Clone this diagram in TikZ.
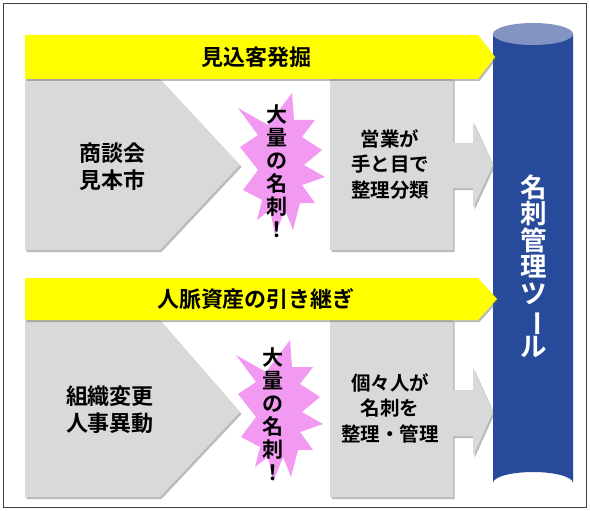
\documentclass[tikz,border=0pt]{standalone}
\usepackage{fontspec}
\setmainfont{Noto Sans CJK JP}[BoldFont={Noto Sans CJK JP Bold}]
\usetikzlibrary{shadows}
\definecolor{ylw}{HTML}{FFFF00}
\definecolor{gry}{HTML}{D9D9D9}
\definecolor{pnk}{HTML}{F29AF2}
\definecolor{cylbody}{HTML}{284A9A}
\definecolor{cyltop}{HTML}{8494C2}
\definecolor{frame}{HTML}{404040}
\newcommand\tightlines{\lineskiplimit=-100pt\relax}
\newcommand\vchoon{\rotatebox[origin=c]{-90}{ー}}
\tikzset{
  shd/.style={drop shadow={opacity=0.45,shadow xshift=1.5pt,shadow yshift=-2pt,fill=gray!80!black}},
  banner/.style={fill=ylw,draw=none,shd},
  grayshape/.style={fill=gry,draw=none,shd},
  burst/.style={fill=pnk,draw=none},
  bantext/.style={font=\bfseries\fontsize{22}{27}\selectfont,inner sep=0pt},
  lefttext/.style={font=\bfseries\fontsize{22}{27}\selectfont,align=center,inner sep=0pt},
  boxtext/.style={font=\bfseries\fontsize{19.5}{25.5}\selectfont,align=center,inner sep=0pt},
  verttext/.style={font=\bfseries\fontsize{21}{23}\selectfont\tightlines,align=center,inner sep=0pt},
  cyltext/.style={font=\bfseries\fontsize{26.5}{26.5}\selectfont\tightlines,align=center,inner sep=0pt,text=white}
}
\begin{document}
\begin{tikzpicture}[x=1pt,y=-1pt]
\useasboundingbox (0,0) rectangle (590,511);
\fill[white] (0,0) rectangle (590,511);
\draw[frame,line width=1pt] (3,4) rectangle (586,507);

% cylinder
\fill[cylbody] (493,34) -- (493,483) arc[x radius=40,y radius=11,start angle=180,end angle=360] -- (573,34) -- cycle;
\fill[cyltop] (533,34) ellipse[x radius=40,y radius=11];
\node[cyltext] (cyl) at (534,266) {名\\刺\\管\\理\\ツ\\{\vchoon}\\ル};

% row 1
\path[grayshape] (25,79) -- (160,79) -- (240,165) -- (160,250) -- (25,250) -- cycle;
\path[grayshape] (330,79) -- (453,79) -- (453,143) -- (473,143) -- (473,122) -- (493,165) -- (473,208) -- (473,188) -- (453,188) -- (453,250) -- (330,250) -- cycle;
\path[banner] (25,35) -- (478,35) -- (495,57) -- (478,79) -- (25,79) -- cycle;
\begin{scope}[shift={(280,165)}]
\path[burst] (12,-72) -- (14,-45) -- (35,-45) -- (22,-28) -- (42,-15) -- (24,0) -- (45,12) -- (22,20) -- (35,38) -- (20,38) -- (13,65) -- (5,45) -- (-5,70) -- (-10,45) -- (-23,55) -- (-18,35) -- (-37,25) -- (-22,5) -- (-40,-18) -- (-22,-30) -- (-42,-57) -- (-12,-40) -- cycle;
\end{scope}
\node[bantext] (b1) at (256,57) {見込客発掘};
\node[lefttext] (l1) at (112,167) {商談会\\見本市};
\node[verttext] (v1) at (277,171) {大\\量\\の\\名\\刺\\！};
\node[boxtext] (r1) at (390,164) {営業が\\手と目で\\整理分類};

% row 2
\path[grayshape] (25,320) -- (160,320) -- (240,412) -- (160,497) -- (25,497) -- cycle;
\path[grayshape] (330,320) -- (453,320) -- (453,390) -- (473,390) -- (473,368) -- (493,412) -- (473,456) -- (473,436) -- (453,436) -- (453,497) -- (330,497) -- cycle;
\path[banner] (25,278) -- (478,278) -- (497,299) -- (478,320) -- (25,320) -- cycle;
\begin{scope}[shift={(278,412)}]
\path[burst] (12,-72) -- (14,-45) -- (35,-45) -- (22,-28) -- (42,-15) -- (24,0) -- (45,12) -- (22,20) -- (35,38) -- (20,38) -- (13,65) -- (5,45) -- (-5,70) -- (-10,45) -- (-23,55) -- (-18,35) -- (-37,25) -- (-22,5) -- (-40,-18) -- (-22,-30) -- (-42,-57) -- (-12,-40) -- cycle;
\end{scope}
\node[bantext] (b2) at (256,299) {人脈資産の引き継ぎ};
\node[lefttext] (l2) at (110,410) {組織変更\\人事異動};
\node[verttext] (v2) at (273,414) {大\\量\\の\\名\\刺\\！};
\node[boxtext] (r2) at (390,408) {個々人が\\名刺を\\整理・管理};
\end{tikzpicture}
\end{document}
